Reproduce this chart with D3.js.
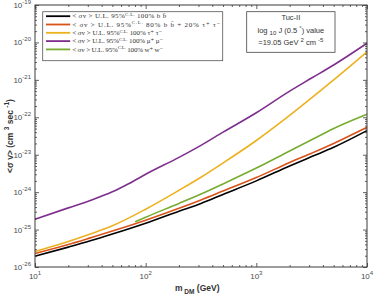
<!DOCTYPE html>
<html><head><meta charset="utf-8">
<script src="https://cdn.jsdelivr.net/npm/d3@7"></script>
<style>
html,body{margin:0;padding:0;background:#fff;}
svg{display:block;}
</style></head>
<body>
<svg id="c" width="374" height="298"></svg>
<script>
// ---- data ----
const massesFull = [10, 20, 31.6, 50, 100, 200, 316, 500, 1000, 2000, 3160, 5000, 10000];
const bbValues = [1.95e-26, 3.4e-26, 5.0e-26, 7.6e-26, 1.48e-25, 3.1e-25, 5.0e-25, 8.7e-25, 2.0e-24, 5.0e-24, 8.9e-24, 1.58e-23, 4.4e-23];
const mixValues = [2.3e-26, 4.0e-26, 6.0e-26, 9.1e-26, 1.78e-25, 3.7e-25, 6.2e-25, 1.07e-24, 2.45e-24, 6.2e-24, 1.1e-23, 2.0e-23, 5.4e-23];
const tauValues = [2.6e-26, 4.8e-26, 7.6e-26, 1.26e-25, 3.5e-25, 1.12e-24, 2.5e-24, 6.0e-24, 2.4e-23, 1.12e-22, 3.3e-22, 1.0e-21, 5.6e-21];
const massesMu = [10, 20, 31.6, 50, 70.8, 100, 200, 316, 500, 1000, 2000, 3160, 5000, 10000];
const muValues = [1.9e-25, 3.8e-25, 6.0e-25, 1.02e-24, 1.7e-24, 3.0e-24, 8.5e-24, 1.78e-23, 4.0e-23, 1.32e-22, 5.0e-22, 1.12e-21, 2.5e-21, 9.5e-21];
const massesW = [80.4, 100, 200, 316, 500, 1000, 2000, 3160, 5000, 10000];
const wwValues = [1.62e-25, 2.14e-25, 5.0e-25, 8.9e-25, 1.66e-24, 4.4e-24, 1.26e-23, 2.5e-23, 5.0e-23, 1.2e-22];
const seriesColors = ["#000000", "#D95319", "#EDB120", "#7E2F8E", "#77AC30"];
const legendLabels = [
  {pre:"< σv >  U.L. 95%", sup:"C.L.", post:"  100% b b̄"},
  {pre:"< σv >  U.L. 95%", sup:"C.L.", post:"  80% b b̄  +  20% τ⁺ τ⁻"},
  {pre:"< σv >  U.L. 95%", sup:"C.L.", post:"  100% τ⁺ τ⁻"},
  {pre:"< σv >  U.L. 95%", sup:"C.L.", post:"  100% μ⁺ μ⁻"},
  {pre:"< σv >  U.L. 95%", sup:"C.L.", post:"  100% w⁺ w⁻"}
];
const xTickValues = [10, 100, 1000, 10000];
const xTickExps = ["1", "2", "3", "4"];
const yTickValues = [1e-26, 1e-25, 1e-24, 1e-23, 1e-22, 1e-21, 1e-20, 1e-19];
const yTickExps = ["-26", "-25", "-24", "-23", "-22", "-21", "-20", "-19"];

const series = [
  {x: massesFull, y: bbValues},
  {x: massesFull, y: mixValues},
  {x: massesFull, y: tauValues},
  {x: massesMu, y: muValues},
  {x: massesW, y: wwValues}
];

// ---- layout ----
const L = 35, R = 367, T = 5, B = 267;
const svg = d3.select("#c");
const x = d3.scaleLog().domain([10, 1e4]).range([L, R]);
const y = d3.scaleLog().domain([1e-26, 1e-19]).range([B, T]);
const axisColor = "#3a3a3a";
const textColor = "#4a4a4a";
const sans = "'Liberation Sans', Arial, Helvetica, sans-serif";
const serif = "'Liberation Serif', 'DejaVu Serif', serif";

const xMinor = [], yMinor = [];
for (let e = 1; e < 4; e++) for (let k = 2; k <= 9; k++) xMinor.push(k * Math.pow(10, e));
for (let e = -26; e < -19; e++) for (let k = 2; k <= 9; k++) yMinor.push(k * Math.pow(10, e));

// curves
const line = d3.line().x(d => x(d[0])).y(d => y(d[1])).curve(d3.curveMonotoneX);
const gLines = svg.append("g");
series.forEach((s, i) => {
  gLines.append("path")
    .datum(s.x.map((m, j) => [m, s.y[j]]))
    .attr("d", line)
    .attr("fill", "none")
    .attr("stroke", seriesColors[i])
    .attr("stroke-width", 1.6);
});

// axes (ticks inside, all four sides)
const majorLen = 4, minorLen = 2;
function addAxis(axisGen, tx, ty) {
  const g = svg.append("g").attr("transform", `translate(${tx},${ty})`).call(axisGen);
  g.select(".domain").remove();
  g.selectAll("text").remove();
  g.selectAll("line").attr("stroke", axisColor).attr("stroke-width", 0.8);
  return g;
}
addAxis(d3.axisBottom(x).tickValues(xTickValues).tickSize(-majorLen), 0, B);
addAxis(d3.axisBottom(x).tickValues(xMinor).tickSize(-minorLen), 0, B);
addAxis(d3.axisTop(x).tickValues(xTickValues).tickSize(-majorLen), 0, T);
addAxis(d3.axisTop(x).tickValues(xMinor).tickSize(-minorLen), 0, T);
addAxis(d3.axisLeft(y).tickValues(yTickValues).tickSize(-majorLen), L, 0);
addAxis(d3.axisLeft(y).tickValues(yMinor).tickSize(-minorLen), L, 0);
addAxis(d3.axisRight(y).tickValues(yTickValues).tickSize(-majorLen), R, 0);
addAxis(d3.axisRight(y).tickValues(yMinor).tickSize(-minorLen), R, 0);

svg.append("rect").attr("x", L).attr("y", T).attr("width", R - L).attr("height", B - T)
  .attr("fill", "none").attr("stroke", axisColor).attr("stroke-width", 1);

// tick labels
xTickValues.forEach((v, i) => {
  const t = svg.append("text").attr("x", x(v)).attr("y", B + 12)
    .attr("text-anchor", "middle").attr("font-family", sans).attr("font-size", 8).attr("fill", textColor);
  t.append("tspan").text("10");
  t.append("tspan").attr("dy", -4).attr("font-size", 6).text(xTickExps[i]);
});
yTickValues.forEach((v, i) => {
  const t = svg.append("text").attr("x", L - 4).attr("y", y(v) + 3)
    .attr("text-anchor", "end").attr("font-family", sans).attr("font-size", 8).attr("fill", textColor);
  t.append("tspan").text("10");
  t.append("tspan").attr("dy", -4).attr("font-size", 6).text(yTickExps[i]);
});

// axis titles
const xl = svg.append("text").attr("x", 175).attr("y", 291)
  .attr("font-family", sans).attr("font-weight", "bold").attr("font-size", 8.5).attr("fill", "#333");
xl.append("tspan").text("m");
xl.append("tspan").attr("dy", 2.5).attr("font-size", 6.5).text(" DM");
xl.append("tspan").attr("dy", -2.5).text("  (GeV)");

const yl = svg.append("text").attr("transform", "translate(13,136) rotate(-90)")
  .attr("text-anchor", "middle")
  .attr("font-family", sans).attr("font-weight", "bold").attr("font-size", 8.5).attr("fill", "#333");
yl.append("tspan").text("<σ v> (cm ");
yl.append("tspan").attr("dy", -4).attr("font-size", 6.5).text("3");
yl.append("tspan").attr("dy", 4).text("  sec ");
yl.append("tspan").attr("dy", -4).attr("font-size", 6.5).text("-1");
yl.append("tspan").attr("dy", 4).text(")");

// legend
const lgX = 42.7, lgY = 11.7, lgW = 180, lgH = 49;
const legendLens = [94, 148, 90, 91, 91];
svg.append("rect").attr("x", lgX).attr("y", lgY).attr("width", lgW).attr("height", lgH)
  .attr("fill", "#fff").attr("stroke", "#555").attr("stroke-width", 0.8);
legendLabels.forEach((lab, i) => {
  const ry = lgY + 4.5 + i * 8.3;
  svg.append("line").attr("x1", lgX + 3.3).attr("x2", lgX + 27.5).attr("y1", ry).attr("y2", ry)
    .attr("stroke", seriesColors[i]).attr("stroke-width", 1.8);
  const t = svg.append("text").attr("x", lgX + 29.5).attr("y", ry + 2.2)
    .attr("font-family", serif).attr("font-size", 7).attr("fill", "#333")
    .attr("textLength", legendLens[i]).attr("lengthAdjust", "spacing");
  t.append("tspan").text(lab.pre);
  t.append("tspan").attr("dy", -2.5).attr("font-size", 4.8).text(lab.sup);
  t.append("tspan").attr("dy", 2.5).text(lab.post);
});

// info box
const bx = 246.7, by = 11.7, bw = 88.3, bh = 40.6;
svg.append("rect").attr("x", bx).attr("y", by).attr("width", bw).attr("height", bh)
  .attr("fill", "#fff").attr("stroke", "#444").attr("stroke-width", 0.8);
const cx = bx + bw / 2;
svg.append("text").attr("x", cx).attr("y", by + 8.5).attr("text-anchor", "middle")
  .attr("font-family", sans).attr("font-size", 7.5).attr("fill", "#333").text("Tuc-II");
const t2 = svg.append("text").attr("x", cx).attr("y", by + 21).attr("text-anchor", "middle")
  .attr("font-family", sans).attr("font-size", 7.5).attr("fill", "#333");
t2.append("tspan").text("log ");
t2.append("tspan").attr("dy", 2).attr("font-size", 6).text("10");
t2.append("tspan").attr("dy", -2).text(" J (0.5 ");
t2.append("tspan").attr("dy", -3).attr("font-size", 6).text("°");
t2.append("tspan").attr("dy", 3).text(") value");
const t3 = svg.append("text").attr("x", cx).attr("y", by + 33.5).attr("text-anchor", "middle")
  .attr("font-family", sans).attr("font-size", 7.5).attr("fill", "#333");
t3.append("tspan").text("=19.05 GeV  ");
t3.append("tspan").attr("dy", -3).attr("font-size", 6).text("2");
t3.append("tspan").attr("dy", 3).text(" cm ");
t3.append("tspan").attr("dy", -3).attr("font-size", 6).text("-5");
</script>
</body></html>
